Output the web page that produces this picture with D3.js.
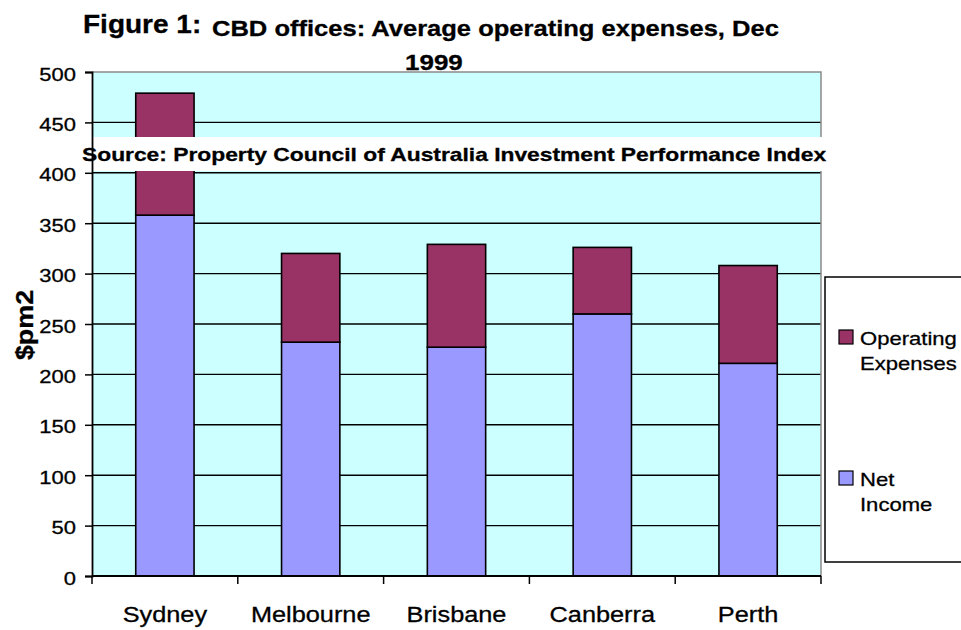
<!DOCTYPE html>
<meta charset="utf-8">

<style>

body {
  margin: 0;
  background: #fff;
}

svg text {
  font-family: "Liberation Sans", Arial, sans-serif;
  fill: #000;
  stroke: #000;
  stroke-width: 0.3px;
}

</style>

<svg class="chart" width="961" height="630"></svg>

<script src="https://d3js.org/d3.v7.min.js"></script>

<script>

var categories = ["Sydney", "Melbourne", "Brisbane", "Canberra", "Perth"];
var netIncome = [358, 232, 227, 260, 211];
var operatingExpenses = [121, 88, 102, 66, 97];
var seriesNames = ["Net Income", "Operating Expenses"];
var seriesColors = ["#9999ff", "#993366"];
var legendOrder = ["Operating Expenses", "Net Income"];
var yTicks = [0, 50, 100, 150, 200, 250, 300, 350, 400, 450, 500];

var svg = d3.select("svg.chart");
var plot = { left: 92, right: 821, top: 72, bottom: 576 };

var x = d3.scaleBand()
  .domain(categories)
  .range([plot.left, plot.right])
  .paddingInner(0.6)
  .paddingOuter(0.3);

var y = d3.scaleLinear()
  .domain([0, 500])
  .range([plot.bottom, plot.top]);

var color = d3.scaleOrdinal().domain(seriesNames).range(seriesColors);

// the reference renders its type a bit wider than the font's own metrics
function widen(sel, factor) {
  sel.each(function() {
    var w = this.getComputedTextLength();
    d3.select(this)
      .attr("textLength", w * factor)
      .attr("lengthAdjust", "spacingAndGlyphs");
  });
}

// plot background
svg.append("rect")
  .attr("x", plot.left)
  .attr("y", plot.top)
  .attr("width", plot.right - plot.left)
  .attr("height", plot.bottom - plot.top)
  .attr("fill", "#ccffff");

// gridlines
svg.append("g")
  .selectAll("line")
  .data(yTicks.filter(function(d) { return d > 0 && d < 500; }))
  .enter()
  .append("line")
    .attr("x1", plot.left)
    .attr("x2", plot.right)
    .attr("y1", function(d) { return y(d); })
    .attr("y2", function(d) { return y(d); })
    .attr("stroke", "#000")
    .attr("stroke-width", 1.4);

// top and right frame
svg.append("path")
  .attr("d", `M${plot.left},${plot.top}H${plot.right}V${plot.bottom}`)
  .attr("fill", "none")
  .attr("stroke", "#8a8a8a")
  .attr("stroke-width", 1.5);

// stacked bars
var rows = categories.map(function(c, i) {
  return { category: c, "Net Income": netIncome[i], "Operating Expenses": operatingExpenses[i] };
});
var stacked = d3.stack().keys(seriesNames)(rows);

svg.append("g")
  .selectAll("g")
  .data(stacked)
  .enter()
  .append("g")
    .attr("fill", function(d) { return color(d.key); })
  .selectAll("rect")
  .data(function(d) { return d; })
  .enter()
  .append("rect")
    .attr("x", function(d) { return x(d.data.category); })
    .attr("y", function(d) { return y(d[1]); })
    .attr("width", x.bandwidth())
    .attr("height", function(d) { return y(d[0]) - y(d[1]); })
    .attr("stroke", "#000")
    .attr("stroke-width", 1.6);

// source band across the plot
svg.append("rect")
  .attr("x", 0)
  .attr("y", 137)
  .attr("width", 961)
  .attr("height", 34)
  .attr("fill", "#fff");

svg.append("text")
  .attr("x", 82)
  .attr("y", 161)
  .style("font-size", "19px")
  .style("font-weight", "bold")
  .text("Source: Property Council of Australia Investment Performance Index")
  .call(widen, 1.2);

// y axis
var yAxis = svg.append("g")
  .attr("transform", `translate(${plot.left},0)`)
  .call(d3.axisLeft(y).tickValues(yTicks).tickSize(7).tickPadding(9));
yAxis.select(".domain").attr("stroke", "#000").attr("stroke-width", 1.8);
yAxis.selectAll(".tick line").attr("stroke", "#000").attr("stroke-width", 1.5);
yAxis.selectAll(".tick text")
  .attr("dy", "0.45em")
  .style("font-size", "18px")
  .call(widen, 1.22);

// x axis: ticks sit on the band boundaries
var xBounds = categories.map(function(c) {
  return x(c) - (x.step() - x.bandwidth()) / 2;
}).concat([plot.right]);

svg.append("g")
  .selectAll("line")
  .data(xBounds)
  .enter()
  .append("line")
    .attr("x1", function(d) { return d; })
    .attr("x2", function(d) { return d; })
    .attr("y1", plot.bottom)
    .attr("y2", plot.bottom + 8)
    .attr("stroke", "#000")
    .attr("stroke-width", 1.5);

svg.append("line")
  .attr("x1", plot.left)
  .attr("x2", plot.right)
  .attr("y1", plot.bottom)
  .attr("y2", plot.bottom)
  .attr("stroke", "#000")
  .attr("stroke-width", 1.8);

svg.append("g")
  .selectAll("text")
  .data(categories)
  .enter()
  .append("text")
    .attr("x", function(d) { return x(d) + x.bandwidth() / 2; })
    .attr("y", 622)
    .attr("text-anchor", "middle")
    .style("font-size", "22px")
    .text(function(d) { return d; })
    .call(widen, 1.15);

// y label
svg.append("text")
  .attr("transform", "translate(33,325) rotate(-90)")
  .attr("text-anchor", "middle")
  .style("font-size", "24px")
  .style("font-weight", "bold")
  .text("$pm2")
  .call(widen, 1.12);

// title
svg.append("text")
  .attr("x", 83)
  .attr("y", 33)
  .style("font-size", "25px")
  .style("font-weight", "bold")
  .text("Figure 1:")
  .call(widen, 1.12);

svg.append("text")
  .attr("x", 212)
  .attr("y", 35.5)
  .style("font-size", "22px")
  .style("font-weight", "bold")
  .text("CBD offices: Average operating expenses, Dec")
  .call(widen, 1.16);

svg.append("text")
  .attr("x", 405)
  .attr("y", 70)
  .style("font-size", "22px")
  .style("font-weight", "bold")
  .text("1999")
  .call(widen, 1.18);

// legend
var legend = svg.append("g");
legend.append("rect")
  .attr("x", 825)
  .attr("y", 277)
  .attr("width", 160)
  .attr("height", 285)
  .attr("fill", "#fff")
  .attr("stroke", "#000")
  .attr("stroke-width", 1.5);

var legendItems = legend.selectAll("g.item")
  .data(legendOrder)
  .enter()
  .append("g")
    .attr("class", "item")
    .attr("transform", function(d, i) { return `translate(839,${330 + i * 141})`; });

legendItems.append("rect")
  .attr("width", 14)
  .attr("height", 14)
  .attr("fill", function(d) { return color(d); })
  .attr("stroke", "#000")
  .attr("stroke-width", 1.2);

legendItems.each(function(d) {
  var words = d.split(" ");
  d3.select(this).selectAll("text")
    .data(words)
    .enter()
    .append("text")
      .attr("x", 21)
      .attr("y", function(w, i) { return 15 + i * 25; })
      .style("font-size", "19px")
      .text(function(w) { return w; })
      .call(widen, 1.16);
});

</script>
